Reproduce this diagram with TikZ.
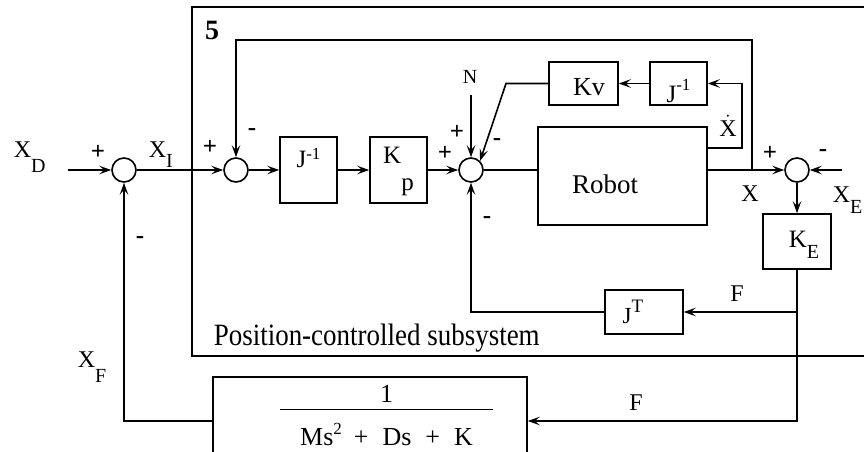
\documentclass[tikz,border=0pt]{standalone}
\usepackage{fontspec}
\setmainfont{Liberation Serif}
\usepackage{graphicx}
\usetikzlibrary{arrows.meta}
\newcommand\fsz[1]{\fontsize{#1}{#1}\selectfont}
\newcommand\lsub[2]{\raisebox{-#1}{\fsz{20}#2}}
\newcommand\hsup[2]{\raisebox{#1}{\fsz{17}#2}}
\begin{document}
\begin{tikzpicture}[x=1pt,y=-1pt,line width=1.6pt,
  >={Stealth[length=12pt,width=8.5pt,inset=5pt]},
  sumnode/.style={circle,draw,minimum size=24pt,inner sep=0pt},
  blk/.style={draw,inner sep=0pt,font=\fsz{25}},
  lbl/.style={inner sep=0pt,font=\fsz{24}},
  sgn/.style={inner sep=0pt,font=\fsz{25}\bfseries}]
\useasboundingbox (0,0) rectangle (864,452);
\clip (0,0) rectangle (864,452);
% subsystem frame
\draw (890,7) -- (192,7) -- (192,356) -- (890,356);
\node[inner sep=0pt,font=\fsz{28}\bfseries] (five) at (212,30) {5};
\node[inner sep=0pt,font=\fsz{31},anchor=base west] (pcs) at (213,345) {\scalebox{0.87}[1]{Position-controlled subsystem}};
% summing junctions
\node[sumnode] (s1) at (124,170) {};
\node[sumnode] (s2) at (236,170) {};
\node[sumnode] (s3) at (471,170) {};
\node[sumnode] (s4) at (797,170) {};
% blocks
\node[blk,minimum width=57pt,minimum height=66pt,text height=10pt,text depth=16pt] (j1) at (308.5,170) {J\hsup{8pt}{-1}};
\node[blk,minimum width=57pt,minimum height=66pt,text height=10pt,text depth=24pt] (kp) at (398.5,170) {K\raisebox{-27pt}{p}};
\node[blk,minimum width=69pt,minimum height=43pt,text height=25pt,text depth=2pt,font=\fsz{26}] (kv) at (583.5,83.5) {\hspace*{11pt}Kv};
\node[blk,minimum width=57pt,minimum height=43pt,text height=38pt,text depth=1pt] (j2) at (678.5,83.5) {J\hsup{12pt}{-1}};
\node[blk,minimum width=169pt,minimum height=98pt,font=\fsz{27},text height=36pt,text depth=2pt] (rob) at (622.5,176) {Robot\hspace*{35pt}};
\node[blk,minimum width=68pt,minimum height=55pt,text height=14pt,text depth=3pt,font=\fsz{25}] (ke) at (797,241.5) {\hspace*{14pt}K\lsub{11pt}{E}};
\node[blk,minimum width=78pt,minimum height=44pt,text height=24pt,text depth=2pt,font=\fsz{23}] (jt) at (644,312) {J\raisebox{11pt}{\fsz{19}T}\hspace*{22pt}};
\node[draw,inner sep=0pt,minimum width=314pt,minimum height=88pt,text height=10pt,text depth=48pt,font=\fontsize{26}{28}\selectfont] (g) at (370,421)
  {\hspace*{33pt}\parbox[t]{213pt}{\centering 1\\[-20pt]\rule{213pt}{1.5pt}\\[7pt]Ms\hsup{11pt}{2}\hspace{12pt}+\hspace{14pt}Ds\hspace{14pt}+\hspace{14pt}K}};
% labels
\node[lbl,anchor=base west] (xd) at (13,157) {X\lsub{15pt}{D}};
\node[lbl,anchor=base west] (xi) at (148,157) {X\lsub{10pt}{I}};
\node[lbl,anchor=base west] (xf) at (77,367) {X\lsub{15pt}{F}};
\node[lbl,anchor=base west] (xe) at (832,202) {X\lsub{11pt}{E}};
\node[lbl] (xlab) at (750,194) {X};
\node[lbl] (xdot) at (728,126) {$\dot{\mbox{X}}$};
\node[lbl,font=\fsz{20}] (nlab) at (470,77) {N};
\node[lbl] (f1) at (737,294) {F};
\node[lbl] (f2) at (636,403) {F};
% signs
\node[sgn] (p1) at (98,152) {+};
\node[sgn] (m1) at (140,240) {-};
\node[sgn] (p2) at (210,147) {+};
\node[sgn] (m2) at (252,132) {-};
\node[sgn] (p3a) at (445,153) {+};
\node[sgn] (p3b) at (457,132) {+};
\node[sgn] (m3a) at (497,142) {-};
\node[sgn] (m3b) at (487,220) {-};
\node[sgn] (p4) at (770,153) {+};
\node[sgn] (m4) at (823,153) {-};
% connectors
\coordinate (xdin) at (68,170);
\coordinate (tap) at (752,170);
\coordinate (c1) at (752,40);
\coordinate (c2) at (236,40);
\coordinate (vd1) at (742,148);
\coordinate (vd2) at (742,83.5);
\coordinate (kvb) at (506,83.5);
\coordinate (nin) at (471,95);
\coordinate (xein) at (842,170);
\coordinate (kf1) at (797,312);
\coordinate (kf2) at (797,421);
\coordinate (jtb) at (471,312);
\coordinate (gb) at (124,421);
\draw[->] (xdin) -- (s1);
\draw[->] (s1) -- (s2);
\draw[->] (s2) -- (j1);
\draw[->] (j1) -- (kp);
\draw[->] (kp) -- (s3);
\draw (s3) -- (rob.west |- s3);
\draw[->] (rob.east |- s4) -- (s4);
\draw[->] (tap) -- (c1) -- (c2) -- (s2);
\draw[->] (rob.east |- vd1) -- (vd1) -- (vd2) -- (j2);
\draw[->] (j2) -- (kv);
\draw[->] (kv) -- (kvb) -- (s3.north east);
\draw[->] (nin) -- (s3);
\draw[->] (xein) -- (s4);
\draw[->] (s4) -- (ke);
\draw[->] (ke) -- (kf2) -- (g);
\draw[->] (kf1) -- (jt);
\draw[->] (jt) -- (jtb) -- (s3);
\draw[->] (g) -- (gb) -- (s1);
\end{tikzpicture}
\end{document}
